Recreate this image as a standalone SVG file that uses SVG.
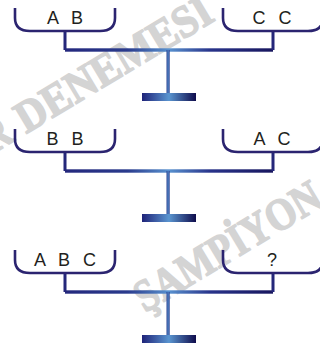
<svg xmlns="http://www.w3.org/2000/svg" width="320" height="349" viewBox="0 0 320 349">
<style>
.wm{font-family:"Liberation Serif","DejaVu Serif",serif;font-weight:bold;font-size:45px;fill:#d4d4d4;stroke:#d4d4d4;stroke-width:1.6;stroke-linejoin:round}
.pan{fill:none;stroke:#2b2470;stroke-width:2.6;stroke-linecap:butt}
.stem{stroke:#25277a;stroke-width:3;fill:none}
.lbl{font-family:"Liberation Sans",Arial,sans-serif;font-size:18px;fill:#231f20;text-anchor:middle;word-spacing:8px}
</style>
<defs>
<linearGradient id="beamG" gradientUnits="userSpaceOnUse" x1="65" y1="0" x2="273" y2="0">
<stop offset="0" stop-color="#24287d"/>
<stop offset="0.3" stop-color="#2a3b8d"/>
<stop offset="0.5" stop-color="#5891cf"/>
<stop offset="0.7" stop-color="#28338a"/>
<stop offset="1" stop-color="#18165e"/>
</linearGradient>
<linearGradient id="baseG" gradientUnits="userSpaceOnUse" x1="142" y1="0" x2="196" y2="0">
<stop offset="0" stop-color="#1f2379"/>
<stop offset="0.5" stop-color="#5a95d0"/>
<stop offset="1" stop-color="#0f0c4c"/>
</linearGradient>
<linearGradient id="postG" gradientUnits="objectBoundingBox" x1="0" y1="0" x2="1" y2="0">
<stop offset="0" stop-color="#2b3f90"/>
<stop offset="0.5" stop-color="#4f82c2"/>
<stop offset="1" stop-color="#2b3f90"/>
</linearGradient>
<g id="scale">
<rect x="65" y="48.3" width="208" height="3.4" fill="url(#beamG)"/>
<path class="stem" d="M65,31 V50 M273,31 V50"/>
<path class="pan" d="M15,8 V18 C15,27 20,31 30,31 H100 C110,31 115,27 115,18 V8"/>
<path class="pan" d="M223,8 V18 C223,27 228,31 238,31 H308 C318,31 323,27 323,18 V8"/>
<rect x="166.5" y="50" width="3.2" height="44" fill="url(#postG)"/>
<rect x="142" y="93" width="54" height="8" fill="url(#baseG)"/>
</g>
</defs>
<g id="watermark">
<text class="wm" transform="translate(26,134) rotate(-31)" textLength="222" lengthAdjust="spacingAndGlyphs">DENEMESİ</text>
<text class="wm" transform="translate(26,134) rotate(-31) translate(-40,0)" textLength="28" lengthAdjust="spacingAndGlyphs">R</text>
<text class="wm" transform="translate(145,313) rotate(-31)" textLength="210" lengthAdjust="spacingAndGlyphs">ŞAMPİYON</text>
</g>
<g id="scale1">
<use href="#scale"/>
<text class="lbl" x="65" y="24">A B</text>
<text class="lbl" x="272" y="24">C C</text>
</g>
<g id="scale2" transform="translate(0,121)">
<use href="#scale"/>
<text class="lbl" x="65" y="24">B B</text>
<text class="lbl" x="272" y="24">A C</text>
</g>
<g id="scale3" transform="translate(0,242)">
<use href="#scale"/>
<text class="lbl" x="65" y="24">A B C</text>
<text class="lbl" x="272" y="24">?</text>
</g>
</svg>
